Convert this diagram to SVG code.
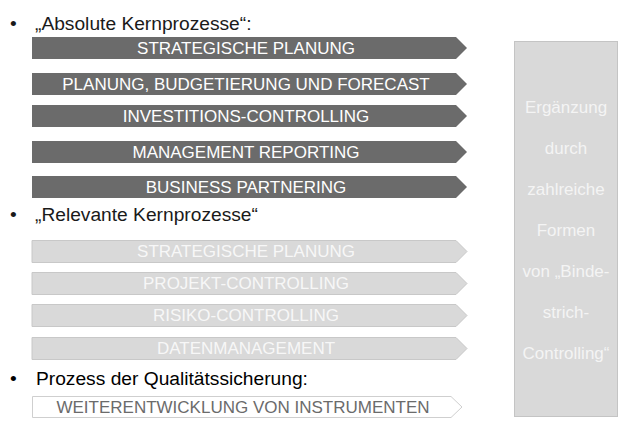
<svg xmlns="http://www.w3.org/2000/svg" width="639" height="424" viewBox="0 0 639 424">
<style>
.t{font-family:"Liberation Sans",Arial,sans-serif;}
.h{font-size:19.2px;fill:#1a1a1a;}
.a{font-size:17px;text-anchor:middle;}
.dk{fill:#6b6b6b;}
.lt{fill:#d9d9d9;stroke:#c8c8c8;stroke-width:1;}
.wh{fill:#ffffff;stroke:#cfcfcf;stroke-width:1;}
.box{fill:#d9d9d9;stroke:#c4c4c4;stroke-width:1;}
.s{font-size:17px;fill:#f4f4f4;text-anchor:middle;}
</style>
<rect width="639" height="424" fill="#ffffff"/>
<g id="heading1"><text class="t h" x="10" y="30">•</text><text class="t h" x="35" y="30">„Absolute Kernprozesse“:</text></g>
<g id="n1"><polygon class="dk" points="32,37 456,37 467,48 456,59 32,59"/><text class="t a" x="246" y="54" fill="#ffffff">STRATEGISCHE PLANUNG</text></g>
<g id="n2"><polygon class="dk" points="32,73 456,73 467,84 456,95 32,95"/><text class="t a" x="246" y="90" fill="#ffffff">PLANUNG, BUDGETIERUNG UND FORECAST</text></g>
<g id="n3"><polygon class="dk" points="32,105 456,105 467,116 456,127 32,127"/><text class="t a" x="246" y="122" fill="#ffffff">INVESTITIONS-CONTROLLING</text></g>
<g id="n4"><polygon class="dk" points="32,141 456,141 467,152 456,163 32,163"/><text class="t a" x="246" y="158" fill="#ffffff">MANAGEMENT REPORTING</text></g>
<g id="n5"><polygon class="dk" points="32,176 456,176 467,187 456,198 32,198"/><text class="t a" x="246" y="193" fill="#ffffff">BUSINESS PARTNERING</text></g>
<g id="heading2"><text class="t h" x="10" y="221">•</text><text class="t h" x="35" y="221">„Relevante Kernprozesse“</text></g>
<g id="n6"><polygon class="lt" points="32,240.5 456,240.5 467,251.5 456,262.5 32,262.5"/><text class="t a" x="246" y="257" fill="#f7f7f7">STRATEGISCHE PLANUNG</text></g>
<g id="n7"><polygon class="lt" points="32,272.5 456,272.5 467,283.5 456,294.5 32,294.5"/><text class="t a" x="246" y="289" fill="#f7f7f7">PROJEKT-CONTROLLING</text></g>
<g id="n8"><polygon class="lt" points="32,304.5 456,304.5 467,315.5 456,326.5 32,326.5"/><text class="t a" x="246" y="321" fill="#f7f7f7">RISIKO-CONTROLLING</text></g>
<g id="n9"><polygon class="lt" points="32,337.5 456,337.5 467,348.5 456,359.5 32,359.5"/><text class="t a" x="246" y="354" fill="#f7f7f7">DATENMANAGEMENT</text></g>
<g id="heading3"><text class="t h" x="10" y="385" style="fill:#000">•</text><text class="t h" x="36" y="385" style="fill:#000">Prozess der Qualitätssicherung:</text></g>
<g id="n10"><polygon class="wh" points="32.5,396.5 451,396.5 462,407 451,417.5 32.5,417.5"/><text class="t a" x="243" y="413" fill="#6b6b6b">WEITERENTWICKLUNG VON INSTRUMENTEN</text></g>
<g id="sidebox"><rect class="box" x="514.5" y="41.5" width="103" height="375"/>
<text class="t s" x="566" y="113">Ergänzung</text>
<text class="t s" x="566" y="154">durch</text>
<text class="t s" x="566" y="195">zahlreiche</text>
<text class="t s" x="566" y="236">Formen</text>
<text class="t s" x="566" y="277">von „Binde-</text>
<text class="t s" x="566" y="318">strich-</text>
<text class="t s" x="566" y="359">Controlling“</text>
</g>
<g id="connectors"></g>
</svg>
